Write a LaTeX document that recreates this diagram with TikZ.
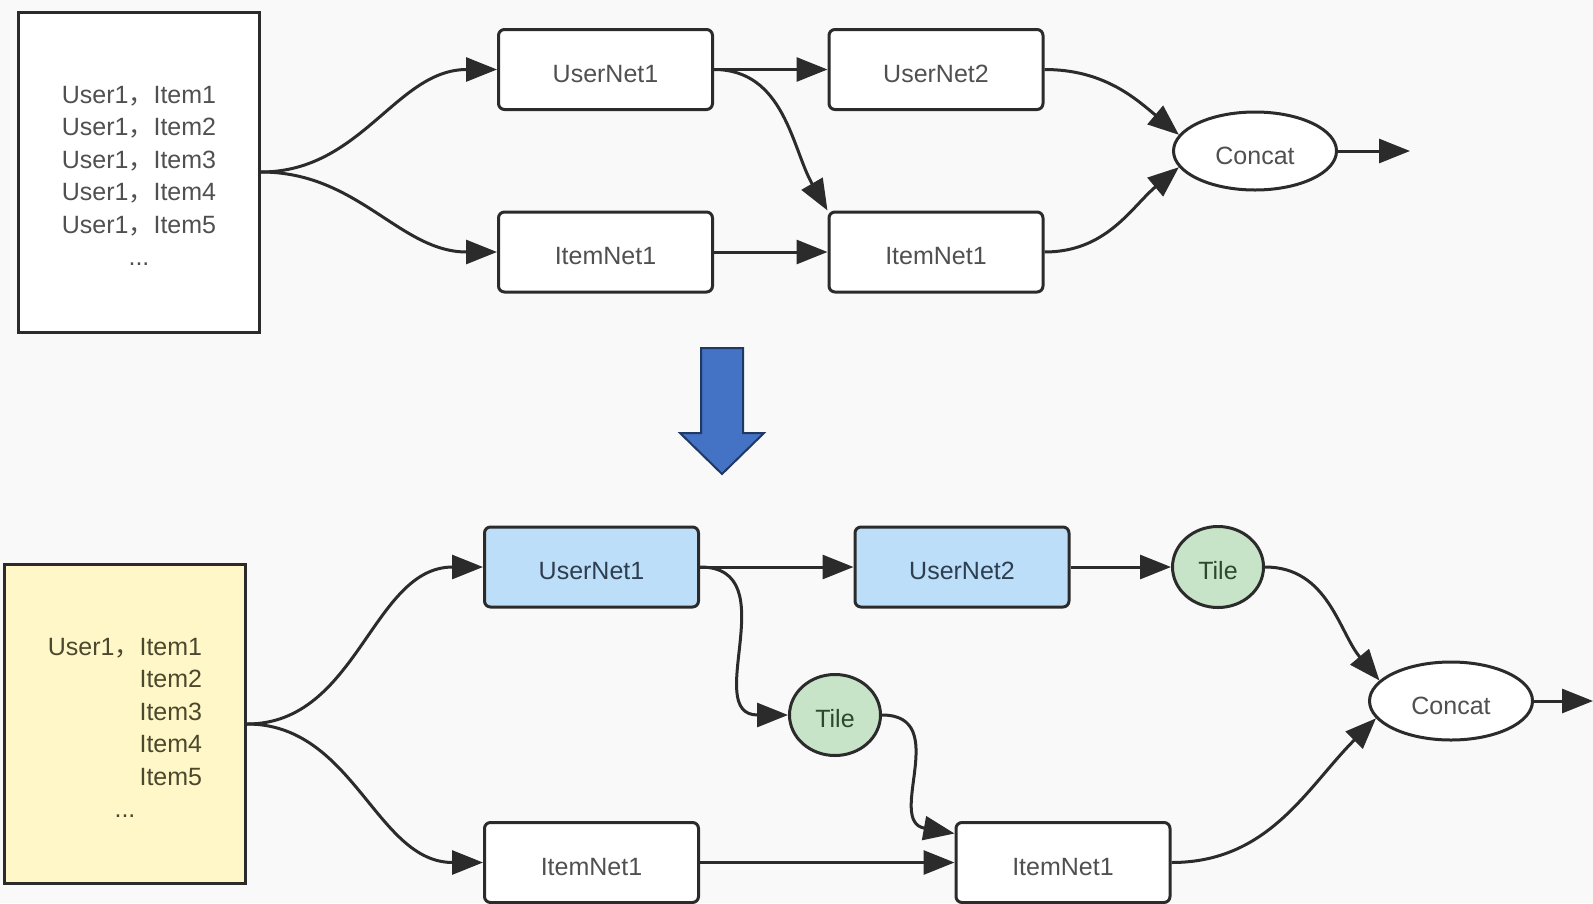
\documentclass[tikz,border=0pt]{standalone}
\usepackage{fontspec}
\setmainfont{Liberation Sans}
\newfontfamily\cjk{Noto Sans CJK SC}
\usetikzlibrary{arrows.meta,shapes.geometric}

\definecolor{pagebg}{RGB}{249,249,249}
\definecolor{ink}{RGB}{43,43,43}
\definecolor{labelgrey}{RGB}{80,80,80}
\definecolor{userblue}{RGB}{189,222,248}
\definecolor{userink}{RGB}{45,62,80}
\definecolor{tilegreen}{RGB}{200,228,200}
\definecolor{tileink}{RGB}{45,72,45}
\definecolor{listyellow}{RGB}{255,247,200}
\definecolor{listink}{RGB}{75,72,45}
\definecolor{flowblue}{RGB}{68,114,196}
\definecolor{flowedge}{RGB}{31,56,100}

% full-width comma between user and item ids
\newcommand\idsep{{\cjk ，}}

\tikzset{
  labelfont/.style={font=\fontsize{25}{32.5}\selectfont},
  netbox/.style={draw=ink, line width=3pt, rounded corners=6pt, fill=white,
    minimum width=214pt, minimum height=80pt, inner sep=0pt,
    text height=25pt, text depth=0pt,
    text=labelgrey, labelfont},
  usernet/.style={netbox, fill=userblue, text=userink},
  listbox/.style={draw=ink, line width=3pt, fill=white,
    minimum width=241pt, minimum height=320pt, inner sep=0pt,
    text=labelgrey, labelfont},
  joinnode/.style={ellipse, draw=ink, line width=3pt, fill=white,
    minimum width=163pt, minimum height=78pt, inner sep=0pt,
    text height=27pt, text depth=0pt,
    text=labelgrey, labelfont},
  tilenode/.style={ellipse, draw=ink, line width=3pt, fill=tilegreen,
    minimum width=91pt, minimum height=81pt, inner sep=0pt,
    text height=25pt, text depth=0pt,
    text=tileink, labelfont},
  conn/.style={draw=ink, line width=3pt, -{Triangle[length=31pt,width=24pt]}},
  flowarrow/.style={draw=flowedge, line width=2pt, fill=flowblue, line join=miter}
}

\begin{document}
\begin{tikzpicture}[x=1pt,y=1pt]
  \useasboundingbox (0,0) rectangle (1593,-903);
  \fill[pagebg] (0,0) rectangle (1593,-903);

  % ---------- original pipeline: one row per (user, item) pair ----------
  \node[listbox] (src1) at (139,-172)
    {\begin{tabular}{@{}c@{}}
       User1\idsep Item1\\
       User1\idsep Item2\\
       User1\idsep Item3\\
       User1\idsep Item4\\
       User1\idsep Item5\\
       ...\\[-11.5pt]
     \end{tabular}};
  \node[netbox] (u1) at (605.5,-69.5) {UserNet1};
  \node[netbox] (i1) at (605.5,-252) {ItemNet1};
  \node[netbox] (u2) at (936,-69.5) {UserNet2};
  \node[netbox] (i2) at (936,-252) {ItemNet1};
  \node[joinnode] (concat1) at (1255,-151) {Concat};
  \coordinate (out1) at (1410,-151);

  \draw[conn] (src1.east) to[out=0,in=180] (u1.west);
  \draw[conn] (src1.east) to[out=0,in=180] (i1.west);
  \draw[conn] (u1.east) -- (u2.west);
  \draw[conn] (u1.east) to[out=0,in=120] (i2.north west);
  \draw[conn] (i1.east) -- (i2.west);
  \draw[conn] (u2.east) to[out=0,in=140] (concat1.168);
  \draw[conn] (i2.east) to[out=0,in=-140] (concat1.192);
  \draw[conn] (concat1.east) -- (out1);

  % ---------- transition arrow ----------
  \draw[flowarrow] (701,-348) -- (743,-348) -- (743,-433) -- (764,-433)
    -- (722,-474) -- (680,-433) -- (701,-433) -- cycle;

  % ---------- optimised pipeline: user branch computed once, then tiled ----------
  \node[listbox, fill=listyellow, text=listink, minimum height=319pt] (src2) at (125,-724)
    {\begin{tabular}{@{}r@{}l@{}}
       User1\idsep & Item1\\
                   & Item2\\
                   & Item3\\
                   & Item4\\
                   & Item5\\
       \multicolumn{2}{@{}c@{}}{...}\\[-11.5pt]
     \end{tabular}};
  \node[usernet] (bu1) at (591.5,-567) {UserNet1};
  \node[usernet] (bu2) at (962,-567) {UserNet2};
  \node[tilenode] (tile1) at (1218,-567) {Tile};
  \node[tilenode] (tile2) at (835,-715) {Tile};
  \node[netbox] (bi1) at (591.5,-862.5) {ItemNet1};
  \node[netbox] (bi2) at (1063,-862.5) {ItemNet1};
  \node[joinnode] (concat2) at (1451,-701) {Concat};
  \coordinate (out2) at (1593,-701);

  \draw[conn] (src2.east) to[out=0,in=180] (bu1.west);
  \draw[conn] (src2.east) to[out=0,in=180] (bi1.west);
  \draw[conn] (bu1.east) -- (bu2.west);
  \draw[conn] (bu1.east) to[out=0,in=180,looseness=1.3] (tile2.west);
  \draw[conn] (bu2.east) -- (tile1.west);
  \draw[conn] (tile1.east) to[out=0,in=130] (concat2.164);
  \draw[conn] (tile2.east) to[out=0,in=170,looseness=1.3] ([yshift=29pt]bi2.west);
  \draw[conn] (bi1.east) -- (bi2.west);
  \draw[conn] (bi2.east) to[out=0,in=-135] (concat2.193);
  \draw[conn] (concat2.east) -- (out2);
\end{tikzpicture}
\end{document}
